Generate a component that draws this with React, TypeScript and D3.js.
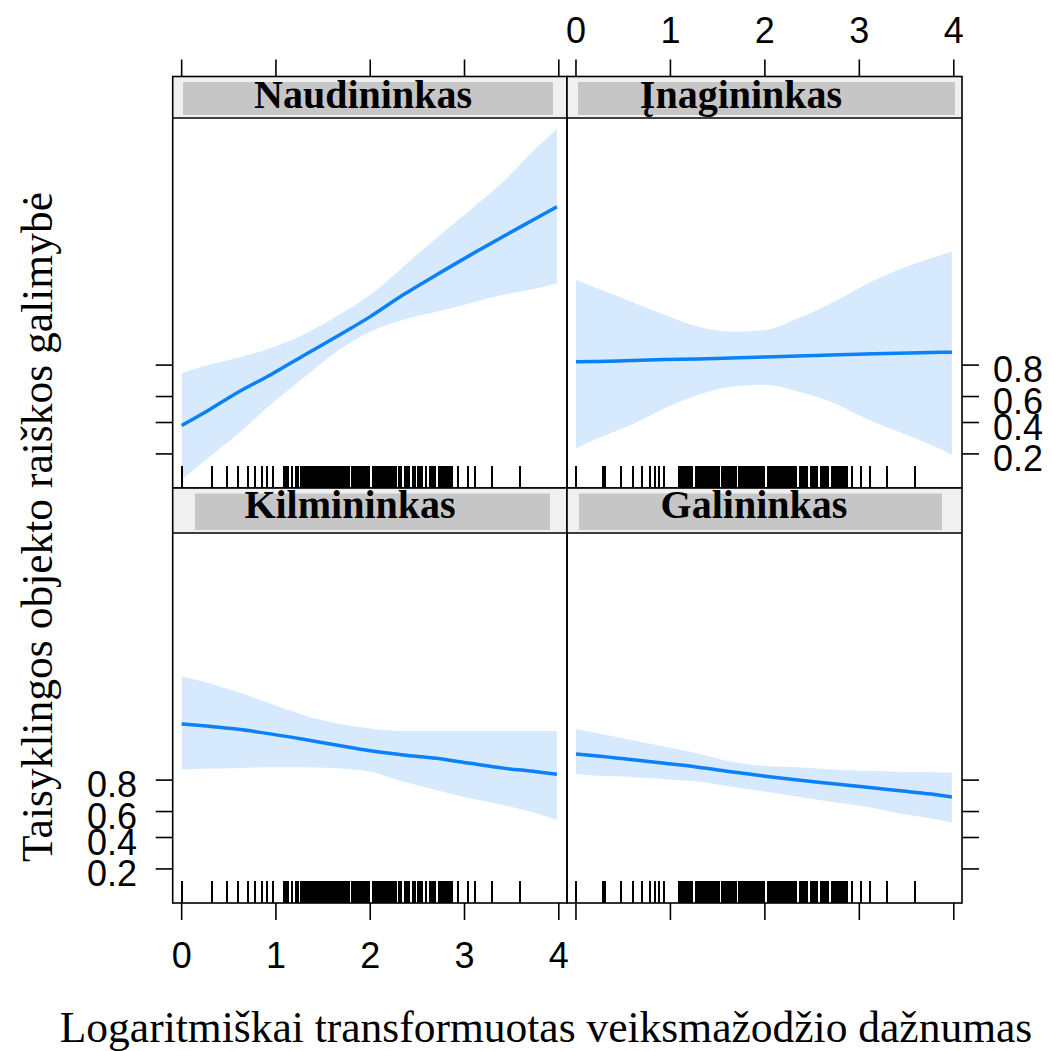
import React from 'react';
import * as d3 from 'd3';

// ---------- data (log-odds scale; tick labels are probabilities) ----------
const panelNames = ['Naudininkas', 'Įnagininkas', 'Kilmininkas', 'Galininkas'];
const xGrid = [0, 0.23, 0.58, 0.94, 1.29, 1.64, 2.0, 2.35, 2.7, 3.06, 3.41, 3.76, 3.98];

const fitNaudininkas = [-0.5, -0.12, 0.51, 1.08, 1.68, 2.27, 2.9, 3.58, 4.2, 4.82, 5.4, 5.97, 6.33];
const loNaudininkas = [-2.2, -1.63, -0.8, 0.14, 0.98, 1.8, 2.43, 2.8, 3.05, 3.32, 3.58, 3.78, 3.94];
const hiNaudininkas = [1.13, 1.34, 1.6, 1.91, 2.33, 2.9, 3.58, 4.46, 5.35, 6.23, 7.11, 8.16, 8.76];

const fitInagininkas = [1.49, 1.5, 1.53, 1.56, 1.58, 1.61, 1.64, 1.67, 1.7, 1.73, 1.76, 1.78, 1.79];
const loInagininkas = [-1.21, -0.9, -0.48, 0.04, 0.45, 0.71, 0.77, 0.56, 0.24, -0.27, -0.69, -1.11, -1.42];
const hiInagininkas = [4.04, 3.78, 3.37, 2.95, 2.59, 2.43, 2.48, 2.85, 3.32, 3.89, 4.36, 4.72, 4.93];

const fitKilmininkas = [3.14, 3.08, 2.98, 2.83, 2.66, 2.48, 2.3, 2.17, 2.07, 1.91, 1.76, 1.65, 1.57];
const loKilmininkas = [1.72, 1.74, 1.76, 1.79, 1.79, 1.76, 1.65, 1.34, 1.08, 0.82, 0.61, 0.35, 0.14];
const hiKilmininkas = [4.62, 4.46, 4.15, 3.78, 3.42, 3.16, 3.0, 2.92, 2.92, 2.92, 2.92, 2.92, 2.92];

const fitGalininkas = [2.2, 2.14, 2.03, 1.91, 1.79, 1.65, 1.51, 1.39, 1.28, 1.17, 1.06, 0.95, 0.86];
const loGalininkas = [1.58, 1.52, 1.49, 1.41, 1.34, 1.18, 1.03, 0.87, 0.71, 0.56, 0.35, 0.19, 0.06];
const hiGalininkas = [2.97, 2.85, 2.64, 2.43, 2.22, 1.96, 1.83, 1.79, 1.72, 1.68, 1.65, 1.63, 1.62];

const rugLeft = [
  0, 0.32, 0.48, 0.6, 0.7, 0.78, 0.85, 0.9, 0.97,
  1.09, 1.11, 1.13, 1.17, 1.21, 1.23, 1.27, 1.29, 1.31, 1.33, 1.35, 1.37, 1.39, 1.41, 1.43, 1.45,
  1.47, 1.49, 1.51, 1.53, 1.55, 1.57, 1.59, 1.61, 1.63, 1.65, 1.67, 1.69, 1.71, 1.73, 1.75, 1.77,
  1.81, 1.83, 1.85, 1.87, 1.89, 1.91, 1.93, 1.95, 1.97, 1.99, 2.03, 2.05, 2.07, 2.09, 2.11, 2.13,
  2.15, 2.17, 2.19, 2.21, 2.23, 2.25, 2.27, 2.31, 2.33, 2.37, 2.39, 2.41, 2.45, 2.47, 2.51, 2.53,
  2.55, 2.59, 2.63, 2.65, 2.67, 2.69, 2.73, 2.75, 2.77, 2.79, 2.81, 2.83, 2.85, 2.87,
  2.93, 3.04, 3.11, 3.29, 3.59,
];
const rugRight = [
  0, 0.29, 0.31, 0.48, 0.6, 0.7, 0.78, 0.84, 0.88, 0.93,
  1.09, 1.11, 1.13, 1.15, 1.17, 1.19, 1.21, 1.23, 1.27, 1.29, 1.31, 1.33, 1.35, 1.37, 1.39, 1.41,
  1.43, 1.45, 1.47, 1.49, 1.51, 1.55, 1.57, 1.59, 1.61, 1.63, 1.65, 1.67, 1.69, 1.73, 1.75, 1.77,
  1.79, 1.81, 1.83, 1.85, 1.87, 1.89, 1.91, 1.93, 1.95, 1.97, 1.99, 2.03, 2.05, 2.07, 2.09, 2.11,
  2.13, 2.15, 2.17, 2.19, 2.21, 2.23, 2.25, 2.27, 2.29, 2.31, 2.33, 2.37, 2.39, 2.41, 2.43, 2.45,
  2.49, 2.51, 2.53, 2.55, 2.59, 2.61, 2.63, 2.65, 2.67, 2.71, 2.73, 2.75, 2.77, 2.79, 2.81, 2.83,
  2.85, 2.87, 2.92, 3.02, 3.11, 3.29, 3.59,
];

const probTicks = [0.2, 0.4, 0.6, 0.8];
const xTicks = [0, 1, 2, 3, 4];
const xTitle = 'Logaritmiškai transformuotas veiksmažodžio dažnumas';
const yTitle = 'Taisyklingos objekto raiškos galimybė';

// ---------- layout ----------
const W = 1053;
const H = 1051;
const cols = [
  [172.7, 567],
  [567, 962],
];
const rows = [
  { strip: [76.5, 118], plot: [118, 488], bar: [82, 115], labelY: 108 },
  { strip: [488, 533], plot: [533, 903], bar: [493.5, 530], labelY: 518 },
];
const xDomain = [-0.095, 4.087];
const yDomain = [-2.45, 9.1];

const panels = [
  { name: panelNames[0], col: 0, row: 0, fit: fitNaudininkas, lo: loNaudininkas, hi: hiNaudininkas, rug: rugLeft, barX: [183, 553], labelX: 363 },
  { name: panelNames[1], col: 1, row: 0, fit: fitInagininkas, lo: loInagininkas, hi: hiInagininkas, rug: rugRight, barX: [578, 955], labelX: 741 },
  { name: panelNames[2], col: 0, row: 1, fit: fitKilmininkas, lo: loKilmininkas, hi: hiKilmininkas, rug: rugLeft, barX: [195, 550], labelX: 350 },
  { name: panelNames[3], col: 1, row: 1, fit: fitGalininkas, lo: loGalininkas, hi: hiGalininkas, rug: rugRight, barX: [579, 942], labelX: 754 },
];

const logit = (p: number) => Math.log(p / (1 - p));
const SANS = '"Liberation Sans", Arial, sans-serif';
const SERIF = '"Liberation Serif", "Times New Roman", serif';
const BAND = '#d7e9fd';
const LINE = '#0a80fa';

export default function App() {
  const xs = cols.map((c) => d3.scaleLinear().domain(xDomain).range(c));
  const ys = rows.map((r) => d3.scaleLinear().domain(yDomain).range([r.plot[1], r.plot[0]]));

  return (
    <svg width={W} height={H} style={{ position: 'absolute', left: 0, top: 0, background: '#fff' }}>
      {panels.map((p, i) => {
        const x = xs[p.col];
        const y = ys[p.row];
        const r = rows[p.row];
        const [x0, x1] = cols[p.col];
        const area = d3
          .area<number>()
          .x((_, k) => x(xGrid[k]))
          .y0((_, k) => y(p.lo[k]))
          .y1((_, k) => y(p.hi[k]))
          .curve(d3.curveMonotoneX);
        const line = d3
          .line<number>()
          .x((_, k) => x(xGrid[k]))
          .y((v) => y(v))
          .curve(d3.curveMonotoneX);
        const clipId = `clip${i}`;
        return (
          <g key={p.name}>
            <defs>
              <clipPath id={clipId}>
                <rect x={x0} y={r.plot[0]} width={x1 - x0} height={r.plot[1] - r.plot[0]} />
              </clipPath>
            </defs>
            {/* strip */}
            <rect x={x0} y={r.strip[0]} width={x1 - x0} height={r.strip[1] - r.strip[0]} fill="#f0f0f0" />
            <rect x={p.barX[0]} y={r.bar[0]} width={p.barX[1] - p.barX[0]} height={r.bar[1] - r.bar[0]} fill="#c6c6c6" />
            <text x={p.labelX} y={r.labelY} textAnchor="middle" fontFamily={SERIF} fontWeight="bold" fontSize={40} fill="#000">
              {p.name}
            </text>
            {/* band + line */}
            <g clipPath={`url(#${clipId})`}>
              <path d={area(p.fit) || ''} fill={BAND} stroke="none" />
              <path d={line(p.fit) || ''} fill="none" stroke={LINE} strokeWidth={3.5} />
              {p.rug.map((v, k) => (
                <line
                  key={k}
                  x1={x(v)}
                  x2={x(v)}
                  y1={r.plot[1] - 22}
                  y2={r.plot[1]}
                  stroke="#000"
                  strokeWidth={2}
                  shapeRendering="crispEdges"
                />
              ))}
            </g>
            {/* frames */}
            <rect x={x0} y={r.strip[0]} width={x1 - x0} height={r.plot[1] - r.strip[0]} fill="none" stroke="#000" strokeWidth={1.6} />
            <line x1={x0} x2={x1} y1={r.strip[1]} y2={r.strip[1]} stroke="#000" strokeWidth={1.6} />
          </g>
        );
      })}

      {/* top axes */}
      {cols.map((c, ci) =>
        xTicks.map((t) => (
          <g key={`tx${ci}-${t}`}>
            <line x1={xs[ci](t)} x2={xs[ci](t)} y1={rows[0].strip[0]} y2={rows[0].strip[0] - 17} stroke="#000" strokeWidth={1.6} />
            {ci === 1 && (
              <text x={xs[ci](t)} y={43} textAnchor="middle" fontFamily={SANS} fontSize={36} fill="#000">
                {t}
              </text>
            )}
          </g>
        ))
      )}
      {/* bottom axes */}
      {cols.map((c, ci) =>
        xTicks.map((t) => (
          <g key={`bx${ci}-${t}`}>
            <line x1={xs[ci](t)} x2={xs[ci](t)} y1={rows[1].plot[1]} y2={rows[1].plot[1] + 17} stroke="#000" strokeWidth={1.6} />
            {ci === 0 && (
              <text x={xs[ci](t)} y={968} textAnchor="middle" fontFamily={SANS} fontSize={36} fill="#000">
                {t}
              </text>
            )}
          </g>
        ))
      )}
      {/* left axes */}
      {rows.map((r, ri) =>
        probTicks.map((p) => {
          const yy = ys[ri](logit(p));
          return (
            <g key={`ly${ri}-${p}`}>
              <line x1={cols[0][0]} x2={cols[0][0] - 17} y1={yy} y2={yy} stroke="#000" strokeWidth={1.6} />
              {ri === 1 && (
                <text x={137} y={yy + 17} textAnchor="end" fontFamily={SANS} fontSize={36} fill="#000">
                  {d3.format('.1f')(p)}
                </text>
              )}
            </g>
          );
        })
      )}
      {/* right axes */}
      {rows.map((r, ri) =>
        probTicks.map((p) => {
          const yy = ys[ri](logit(p));
          return (
            <g key={`ry${ri}-${p}`}>
              <line x1={cols[1][1]} x2={cols[1][1] + 17} y1={yy} y2={yy} stroke="#000" strokeWidth={1.6} />
              {ri === 0 && (
                <text x={993} y={yy + 17} textAnchor="start" fontFamily={SANS} fontSize={36} fill="#000">
                  {d3.format('.1f')(p)}
                </text>
              )}
            </g>
          );
        })
      )}

      {/* titles */}
      <text x={546} y={1042} textAnchor="middle" fontFamily={SERIF} fontSize={43.5} fill="#000">
        {xTitle}
      </text>
      <text
        transform={`translate(52, 527) rotate(-90)`}
        textAnchor="middle"
        fontFamily={SERIF}
        fontSize={43.5}
        fill="#000"
      >
        {yTitle}
      </text>
    </svg>
  );
}
